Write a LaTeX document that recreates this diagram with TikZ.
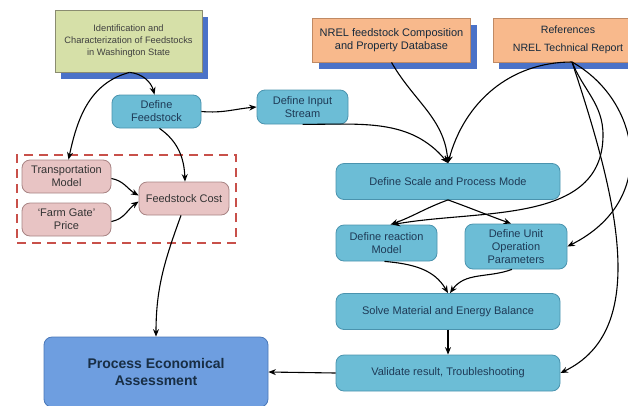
\documentclass[tikz,border=0pt]{standalone}
\usepackage{fontspec}
\setmainfont{Liberation Sans}
\usetikzlibrary{arrows.meta,shadows,positioning}
\definecolor{tealf}{HTML}{6CBDD6}
\definecolor{teald}{HTML}{4A93AE}
\definecolor{tealtext}{HTML}{1E3A56}
\definecolor{pinkf}{HTML}{E8C4C4}
\definecolor{pinkd}{HTML}{A88484}
\definecolor{greenf}{HTML}{D6E0A8}
\definecolor{greend}{HTML}{8A8C70}
\definecolor{orangef}{HTML}{F8B98C}
\definecolor{oranged}{HTML}{C08A64}
\definecolor{shadowblue}{HTML}{4A72C8}
\definecolor{procf}{HTML}{6E9EE0}
\definecolor{procd}{HTML}{4A78B8}
\definecolor{dashred}{HTML}{C8504A}
\begin{document}
\begin{tikzpicture}[x=1pt,y=1pt,
  tealbox/.style={draw=teald,fill=tealf,rounded corners=8pt,line width=0.8pt,
    text=tealtext,font=\fontsize{11}{13}\selectfont,align=center,inner sep=2pt},
  pinkbox/.style={draw=pinkd,fill=pinkf,rounded corners=8pt,line width=0.8pt,
    text=black!80,font=\fontsize{11}{13}\selectfont,align=center,inner sep=2pt},
  srcbox/.style={line width=0.8pt,align=center,inner sep=2pt,
    general shadow={fill=shadowblue,shadow xshift=6pt,shadow yshift=-7pt}},
  arr/.style={-{Stealth[length=7.5pt,width=6pt]},line width=1.1pt,black},
]
\useasboundingbox (0,0) rectangle (628,-405);
% source boxes
\node[srcbox,draw=greend,fill=greenf,text=black!75,
  font=\fontsize{9.3}{12}\selectfont,minimum width=147pt,minimum height=62pt]
  (ident) at (128.5,-41) {Identification and\\Characterization of Feedstocks\\in Washington State};
\node[srcbox,draw=oranged,fill=orangef,text=tealtext!70!black,
  font=\fontsize{11}{13}\selectfont,minimum width=158pt,minimum height=44pt]
  (nrel) at (391.5,-40) {NREL feedstock Composition\\and Property Database};
\node[srcbox,draw=oranged,fill=orangef,text=tealtext!70!black,
  font=\fontsize{10.6}{13}\selectfont,minimum width=150pt,minimum height=44pt]
  (refs) at (568,-40) {References\\[5pt]NREL Technical Report};
% process boxes
\node[tealbox,minimum width=89pt,minimum height=33pt] (deffeed) at (156.5,-111.5) {Define\\Feedstock};
\node[tealbox,minimum width=91pt,minimum height=34pt] (definput) at (302.5,-107) {Define Input\\Stream};
\node[pinkbox,minimum width=89pt,minimum height=33pt] (transport) at (66.5,-176.5) {Transportation\\Model};
\node[pinkbox,minimum width=89pt,minimum height=33pt] (farm) at (66.5,-219.5) {`Farm Gate'\\Price};
\node[pinkbox,minimum width=90pt,minimum height=33pt] (feedcost) at (184,-198.5) {Feedstock Cost};
\node[draw=dashred,line width=2pt,dash pattern=on 9pt off 6pt,minimum width=219pt,
  minimum height=88pt,inner sep=0pt] (group) at (126.5,-199) {};
\node[tealbox,minimum width=224pt,minimum height=36pt] (scale) at (448,-181.5) {Define Scale and Process Mode};
\node[tealbox,minimum width=101pt,minimum height=36pt] (reaction) at (386.5,-243) {Define reaction\\Model};
\node[tealbox,minimum width=102pt,minimum height=45pt] (unitop) at (516,-246.5) {Define Unit\\Operation\\Parameters};
\node[tealbox,minimum width=224pt,minimum height=36pt] (solve) at (448,-311.5) {Solve Material and Energy Balance};
\node[tealbox,minimum width=224pt,minimum height=36pt] (validate) at (448,-373) {Validate result, Troubleshooting};
\node[draw=procd,fill=procf,rounded corners=8pt,line width=0.8pt,text=tealtext!80!black,
  font=\bfseries\fontsize{14}{17}\selectfont,align=center,minimum width=224pt,minimum height=70pt]
  (proc) at (156,-372) {Process Economical\\Assessment};
% connectors
\coordinate (identb) at ([xshift=1pt]ident.south);
\coordinate (refsb) at (572,-62);
\coordinate (refsbend) at (603,-135);
\draw[arr] (identb) to[out=-5,in=105] ([xshift=-2pt]deffeed.north);
\draw[arr] (identb) to[out=195,in=78] ([xshift=2pt]transport.north);
\draw[arr] (deffeed.east) to[out=-5,in=185] (definput.west);
\draw[arr] ([xshift=3pt]deffeed.south) to[out=-35,in=92] ([xshift=1pt]feedcost.north);
\draw[arr] ([yshift=-2pt]transport.east) to[out=-10,in=150] ([yshift=3pt]feedcost.west);
\draw[arr] ([yshift=-2pt]farm.east) to[out=10,in=215] ([yshift=-3pt]feedcost.west);
\draw[arr] ([xshift=-3pt]feedcost.south) to[out=250,in=90] (proc.north);
\draw[arr] (definput.south) to[out=0,in=130] (scale.north);
\draw[arr] (nrel.south) to[out=-60,in=95] (scale.north);
\draw[arr] (refsb) to[out=180,in=75] (scale.north);
\draw[arr] (scale.south) to[out=200,in=20] ([xshift=4pt]reaction.north);
\draw[arr] (scale.south) to[out=-20,in=160] ([xshift=-5pt]unitop.north);
\draw[arr] (refsb) to[out=-68,in=90] (refsbend) to[out=-90,in=10] ([xshift=6pt]reaction.north);
\draw[arr] (refsb) .. controls (640,-100) and (660,-200) .. (unitop.east);
\draw[arr] (refsb) .. controls (618,-200) and (650,-330) .. (validate.east);
\draw[arr] ([xshift=-2pt]reaction.south) to[out=-5,in=120] (solve.north);
\draw[arr] ([xshift=-4pt]unitop.south) to[out=200,in=55] ([xshift=2pt]solve.north);
\draw[arr] (solve.south) -- (validate.north);
\draw[arr] (validate.west) -- (proc.east);
\end{tikzpicture}
\end{document}
